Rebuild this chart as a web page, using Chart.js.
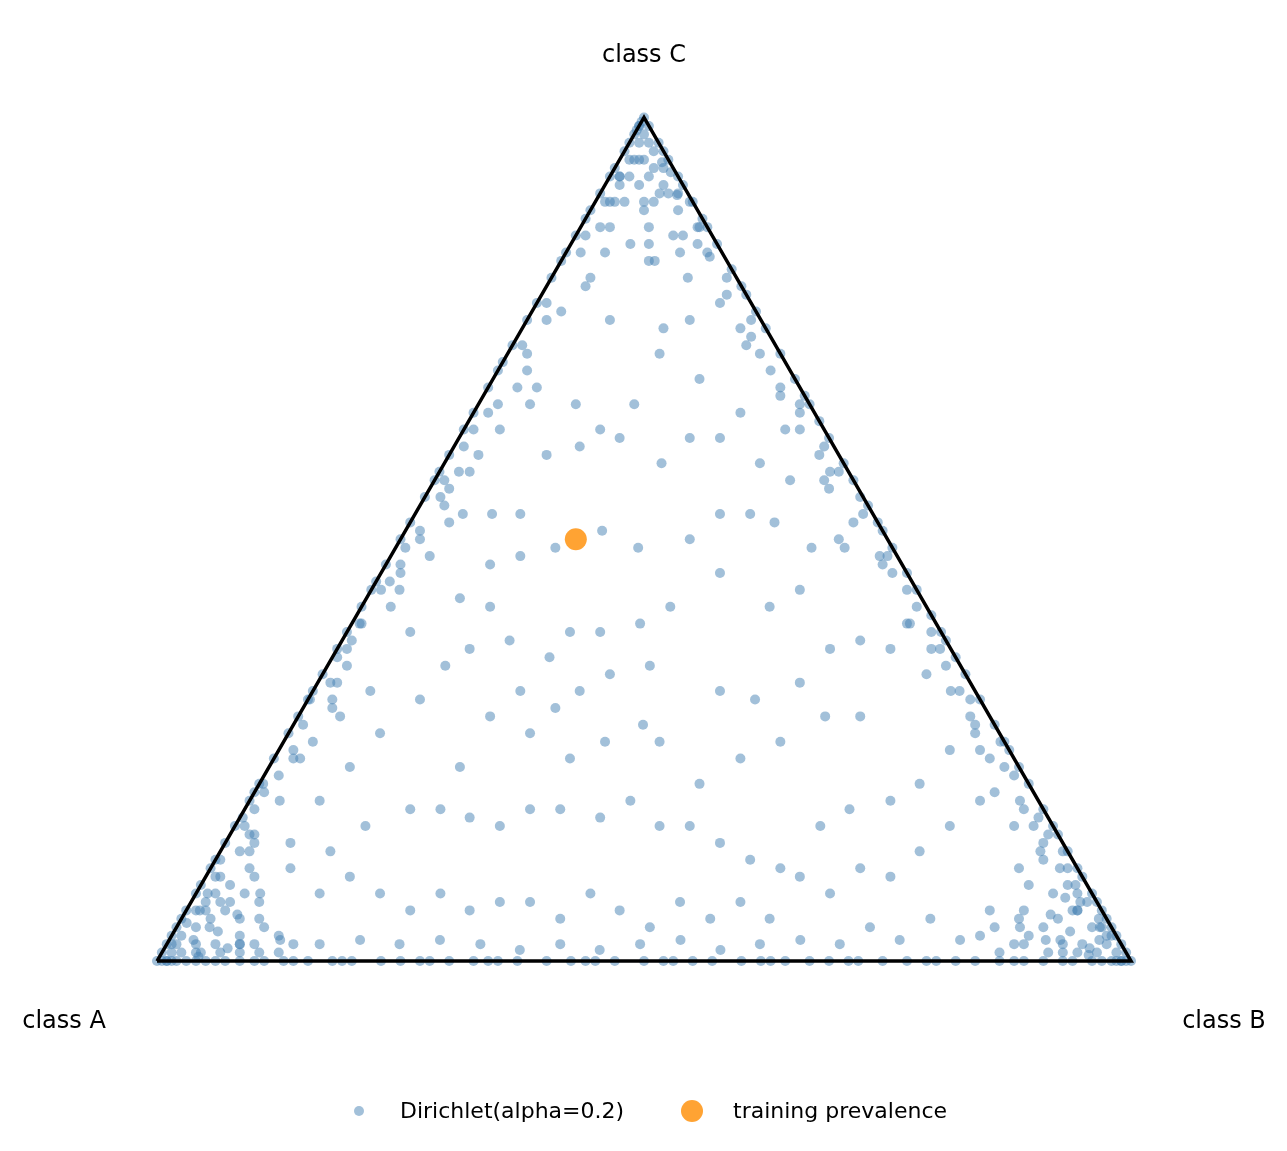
<!DOCTYPE html>
<html><head><meta charset="utf-8">
<script src="https://cdn.jsdelivr.net/npm/chart.js@4.4.1/dist/chart.umd.min.js"></script>
<style>html,body{margin:0;padding:0;background:#fff;overflow:hidden}#w{width:1287px;height:1151px}</style>
</head><body><div id="w"><canvas id="c"></canvas></div>
<script>
// ternary samples in percent: b = class B share, c = class C share (a = 100-b-c)
const interiorB=[16,10,14,5,3,8.5,14.5,16.7,18.8,22.4,25.9,15.6,21.2,27.4,30.5,26.8,23.7,22.3,16.5,12.9,10,10.8,7.9,4.9,10.7,13.3,16.4,20.2,24.9,29.7,31.3,34.4,37.4,42.7,46.1,44,41.9,34.8,31.7,29.6,26,22.9,22.3,17.2,13.6,12.1,6.5,2.9,4,9.6,13.2,21.3,25.9,27.4,29.5,33.1,41.8,45.9,49.5,50.6,53.2,56.8,57.7,54.1,51,47.9,45.2,38.6,35.9,33,30.4,24.8,19.7,19.6,11.5,9.4,8.3,7.2,6.7,11.3,13.4,17,20.1,23.6,27.2,29.3,32.4,37,39.1,43.6,46.7,50.8,54.9,58.5,60.1,62.1,65.8,67.8,68.9,69,73.6,75,73.4,71.8,70.3,66.7,65.1,61,60.4,56.4,54.3,50.2,48.6,44.5,40.5,38.9,34.8,31.7,29.1,25.1,23,18.9,14.8,12.7,8.2,6.6,4,3,3.1,2.7,4.3,5.9,0.5,0.8,1.4,1.5,1.6,3.1,3.7,5.3,4,6.1,9.6,11.7,12.2,1.5,1,6.1,9.7,32.4,36.5,40.1,34.5,44.7,50.2,57.3,61.9,66.4,73.5,79.1,84.2,87.2,91.3,94.8,91.5,86.6,82.5,81.2,76.9,75,71.2,69.1,64.8,60.9,57.2,52.5,48.6,44.8,40.4,36.6,32.2,27.8,23.9,19.6,15.7,11.4,7.5,3.4,1.4,1.5,0.3,0.4,0.2,1.3];
const interiorC=[66,66,63,68,77,76,75,76,78,75,72,72,69,65,67,62,62,59,62,61,60,53,53,53,47,48,49,51,49,50,53,53,52,49,49,44,42,46,42,40,39,39,36,38,37,35,39,44,48,43,42,32,30,32,34,35,32,31,33,37,38,37,29,29,26,24,21,26,28,26,24,27,29,23,31,27,23,19,14,13,16,18,18,17,16,18,18,17,19,16,16,14,12,11,16,18,19,21,25,29,26,19,16,13,10,11,8,10,5,7,5,7,4,6,8,5,7,7,6,8,6,8,10,8,11,8,7,13,19,24,29,32,36,40,45,51,55,58,63,66,81,85,83,84,87,90,93,91,90,59,57,58,63,55,48,40,37,32,24,19,13,11,7,4,2.5,4,6,2.5,5,2.5,4,2,2.5,2,1.3,2.5,2,1.3,2,1.3,2,2.5,2,2.5,2,2.5,2,4,6,10,17,21,31,33];
// near class A corner: (b, c)
const cornerA_B=[1,2,3,1,4,2,5,3,6,1,7,4,8,2,6,9,3,5,10,1,7,11,4,12,2,8,0.5,13,1.5,9,5,3,1,2.5,3.5,0.8,4.5,6.5,2,1.2,5.5,7.5,3,0.5,2,4];
const cornerA_C=[1,1,2,3,1,4,2,5,1,6,3,6,1,8,5,2,9,8,1,10,7,3,11,1,13,5,2,2,7,4,10,14,2,2.5,1,4.5,3.5,1.5,6,8,5.5,2,7,12,15,0.5];
// near class B corner: (a, c)
const cornerB_A=[1,1.5,3,1,4,2,5,2.5,6,1,7,3,8,2,5,9,4,6,11,1,8,12,3,13,2,9,0.5,10,1.5,6,14,4,1,2,3.5,0.8,4.5,6.5,2.5,1.2,5.5,7.5,3,0.5,2,4];
const cornerB_C=[1,2,1,4,2,4,1,6,2,7,4,6,1,9,5,3,8,9,2,11,6,4,12,1,14,5,3,2,8,11,3,16,3,2.5,1.5,5,3.5,1,6,9,5.5,2.5,7.5,13,16,0.7];
// near class C corner: (a, b)
const cornerC_A=[1,2,1,3,4,2,5,1,3,6,2,7,5,1,8,4,9,2,6,10,3,11,1,7,12,4,2,0.5,13,5,8,1.5,1,2.5,3.5,0.8,4.5,6.5,2,1.2,5.5];
const cornerC_B=[1,1,3,2,1,4,2,5,4,1,7,3,5,8,2,6,1,9,7,3,11,2,12,8,4,10,13,6,1,14,9,15,2,2.5,1.5,4.5,3.5,1.5,6,8,5.5];
// near the left edge (b small): (b, c)
const leftNearB=[1,2,1,3,2,1,3,2,1,4,2,3,1,2,3,1,2,4,1,3,2,1,2,3,1,1.5,2.5,1,1.5,2.5,1,1.5,2,1,1.5,2.5,1,2,1.5,1];
const leftNearC=[20,24,28,30,35,38,42,46,49,52,56,60,63,66,70,73,76,80,18,26,33,44,58,68,16,22,31,40,47,54,61,65,72,78,84,15,37,50,25,57];
// near the right edge (a small): (a, c)
const rightNearA=[1,2,1,3,2,1,4,2,3,1,2,5,1,3,2,4,1,2,3,1,2,4,1,3,1,1.5,2.5,1,1.5,2.5,1,1.5,2,1,1.5,2.5,1,2,1.5,1];
const rightNearC=[15,18,22,25,28,31,34,37,40,44,47,50,53,56,60,63,66,70,73,76,79,20,42,57,17,23,32,39,46,52,61,65,74,81,84,27,48,68,35,58];
// on the edges
const baseB=[2,4,6,8.5,11,13,15.5,18,20,23,25,27,30,32.5,35,37,40,42.5,45,47,50,52,55,57,60,62,64.5,67,69,72,74.5,77,79,82,84,86.5,89,91,94,96,98,1,3,5,7,10,14,19,28,34,44,53,63,71,80,88,93,97,99];
const leftC=[2,4,6,9,11,14,16,19,21,24,27,29,32,34,37,39,42,45,47,50,52,55,58,60,63,65,68,71,73,76,78,81,84,86,89,91,94,96,98,1,3,5,8,12,20,31,44,57,70,83,88,93,97,99];
const rightC=[2,4,6,8,11,13,16,18,21,23,26,28,31,34,36,39,41,44,46,49,52,54,57,59,62,64,67,69,72,75,77,80,82,85,87,90,92,95,97,1,3,5,7,10,15,25,38,51,66,79,88,93,96,99];
const trainB=[18], trainC=[50];
const labelA='class A', labelB='class B', labelC='class C';
const seriesName='Dirichlet(alpha=0.2)', trainName='training prevalence';

const H=Math.sqrt(3)/2;
function pt(b,c){b/=100;c/=100;return {x:b+c/2,y:c*H};}
const pts=[];
interiorB.forEach((b,i)=>pts.push(pt(b,interiorC[i])));
cornerA_B.forEach((b,i)=>pts.push(pt(b,cornerA_C[i])));
cornerB_A.forEach((a,i)=>pts.push(pt(100-a-cornerB_C[i],cornerB_C[i])));
cornerC_A.forEach((a,i)=>pts.push(pt(cornerC_B[i],100-a-cornerC_B[i])));
leftNearB.forEach((b,i)=>pts.push(pt(b,leftNearC[i])));
rightNearA.forEach((a,i)=>pts.push(pt(100-a-rightNearC[i],rightNearC[i])));
baseB.forEach(b=>pts.push(pt(b,0)));
leftC.forEach(c=>pts.push(pt(0,c)));
rightC.forEach(c=>pts.push(pt(100-c,c)));
[0,0.5,1,1.5].forEach(v=>{pts.push(pt(v,0));pts.push(pt(100-v,0));pts.push(pt(0,100-v));});
const train=trainB.map((b,i)=>pt(b,trainC[i]));

const labels={id:'lab',afterDraw(ch){const c=ch.ctx;c.save();c.fillStyle='#000';c.font='24px "DejaVu Sans"';c.textAlign='center';c.textBaseline='middle';
c.fillText(labelC,644,56);c.fillText(labelA,64,1022);c.fillText(labelB,1224,1022);
c.font='22px "DejaVu Sans"';c.textAlign='left';
c.fillStyle='rgba(70,130,180,0.5)';c.beginPath();c.arc(359,1111,5,0,7);c.fill();
c.fillStyle='rgba(255,140,0,0.8)';c.beginPath();c.arc(692,1111,11,0,7);c.fill();
c.fillStyle='#000';c.fillText(seriesName,400,1112);c.fillText(trainName,733,1112);c.restore();}};

new Chart(document.getElementById('c'),{type:'scatter',
data:{datasets:[
{data:pts,backgroundColor:'rgba(70,130,180,0.5)',borderWidth:0,pointRadius:5,order:3},
{type:'line',data:[{x:0,y:0},{x:1,y:0},{x:0.5,y:H},{x:0,y:0}],borderColor:'#000',borderWidth:3.5,pointRadius:0,fill:false,order:2},
{data:train,backgroundColor:'rgba(255,140,0,0.8)',borderWidth:0,pointRadius:11,order:1}]},
options:{responsive:true,maintainAspectRatio:false,animation:false,
layout:{autoPadding:false,padding:{left:0,right:0,top:0,bottom:91}},
plugins:{legend:{display:false},tooltip:{enabled:false}},
scales:{x:{type:'linear',display:false,min:-157/974,max:1130/974},
y:{type:'linear',display:false,min:-99/974,max:961/974}}},
plugins:[labels]});
</script></body></html>
